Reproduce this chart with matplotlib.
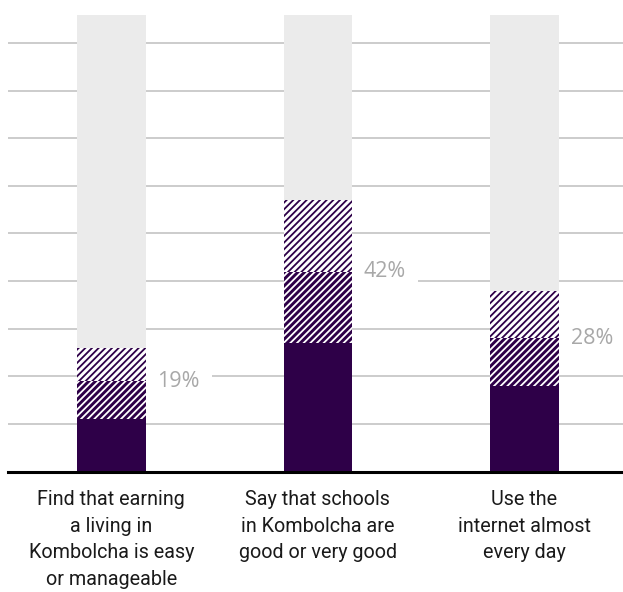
import matplotlib
matplotlib.use("Agg")
from matplotlib import pyplot as plt
import numpy as np

# survey answers, in percent of respondents
categories = [
    "Find that earning\na living in\nKombolcha is easy\nor manageable",
    "Say that schools\nin Kombolcha are\ngood or very good",
    "Use the\ninternet almost\nevery day",
]
solid_part = [11, 27, 18]
dense_part = [8, 15, 10]
light_part = [7, 15, 10]
headline = [19, 42, 28]
backdrop = 96

purple = "#2e0048"
plt.rcParams["font.family"] = ["Roboto", "DejaVu Sans"]
plt.rcParams["hatch.linewidth"] = 1.3

fig = plt.figure(figsize=(6.23, 5.92), dpi=100)
ax = fig.add_axes([8 / 623, 120.5 / 592, 615 / 623, 471.5 / 592])

x = np.arange(len(categories))
width = 0.332
solid = np.array(solid_part)
dense = np.array(dense_part)
light = np.array(light_part)

ax.bar(x, backdrop, width, color="#ebebeb", zorder=2)
ax.bar(x, solid, width, color=purple, zorder=3)
ax.bar(x, dense, width, bottom=solid, facecolor=purple, edgecolor="white",
       hatch="/////", linewidth=0, zorder=3)
ax.bar(x, light, width, bottom=solid + dense, facecolor="white", edgecolor=purple,
       hatch="/////", linewidth=0, zorder=3)

# value labels sit just right of each bar, masking the grid behind them
for xi, v in zip(x, headline):
    ax.annotate(f"{v}%", xy=(xi + width / 2, v), xytext=(8.5, 0),
                textcoords="offset points", ha="left", va="center",
                fontsize=15.5, family=["Open Sans", "DejaVu Sans"],
                color="#a8a8a8", zorder=5,
                bbox=dict(boxstyle="square,pad=0.55", fc="white", ec="none"))

for xi, lab in zip(x, categories):
    ax.annotate(lab, xy=(xi, 0), xytext=(0, -13.5), textcoords="offset points",
                ha="center", va="top", fontsize=14.2, color="#1a1a1a",
                linespacing=1.5, annotation_clip=False)

ax.set_xlim(-0.5, 2.477)
ax.set_ylim(0, 99.05)
ax.set_yticks(np.arange(10, 100, 10))
ax.set_xticks([])
ax.yaxis.grid(True, color="#c8c8c8", linewidth=1.3)
ax.set_axisbelow(True)
ax.tick_params(axis="y", length=0, labelleft=False)
for side in ["top", "right", "left"]:
    ax.spines[side].set_visible(False)
ax.spines["bottom"].set_linewidth(2.2)
ax.spines["bottom"].set_color("black")
ax.spines["bottom"].set_zorder(6)

fig.savefig("out.png", dpi=100)
